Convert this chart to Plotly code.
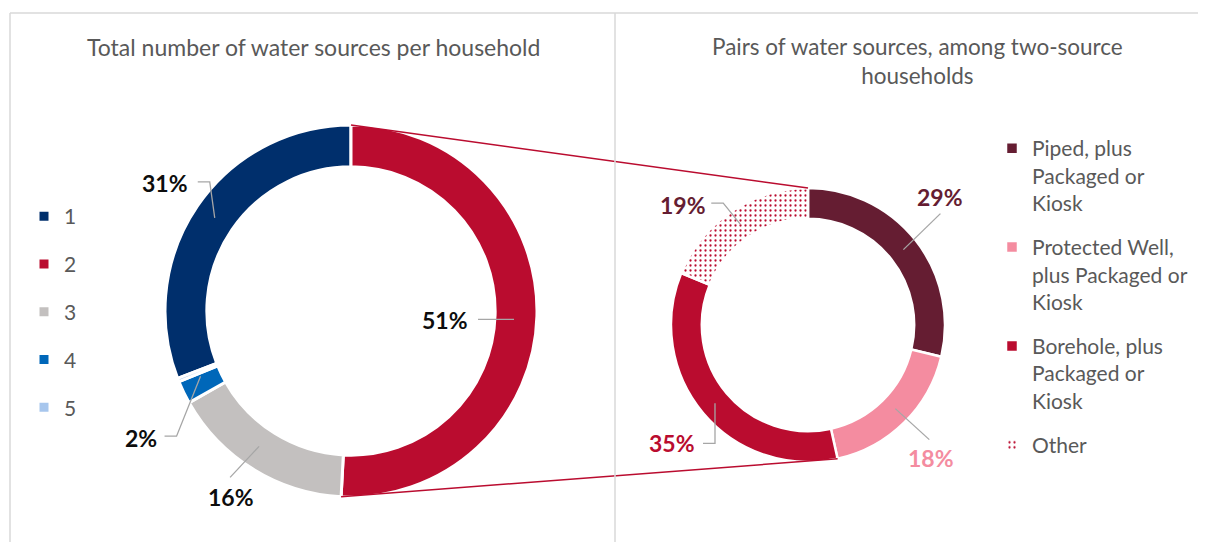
import math
import plotly.graph_objects as go

# page body has an 8px default margin: the figure is drawn inside it
OFF = 8
FW, FH = 1206 - 2 * OFF, 550 - 2 * OFF

# ---------------- data ----------------
left_title = "Total number of water sources per household"
left_labels = ["1", "2", "3", "4", "5"]
left_values = [31, 51, 16, 2, 0.3]

right_title = "Pairs of water sources, among two-source<br>households"
right_labels = [
    "Piped, plus<br>Packaged or<br>Kiosk",
    "Protected Well,<br>plus Packaged or<br>Kiosk",
    "Borehole, plus<br>Packaged or<br>Kiosk",
    "Other",
]
right_values = [29, 18, 35, 19]

# ---------------- style ----------------
FONT = "Lato"
GREY = "#595959"
LEADER = "#A6A6A6"
left_colors = ["#002F6C", "#BA0C2F", "#C3C0BF", "#0067B9", "#A7C6ED"]
left_label_colors = ["#0D0D0D"] * 5
right_colors = ["#651D32", "#F48CA0", "#BA0C2F", "#FFFFFF"]
right_patterns = ["", "", "", "."]
right_label_colors = ["#651D32", "#F48CA0", "#BA0C2F", "#651D32"]

# geometry in window pixels
LC, LR = (351, 311), 186
RC, RR = (808, 325), 137
HOLE = 0.775

# label placement (pixel offsets from the computed slice anchor)
left_text_off = [(-50, -35), (-71, 5), (-33, 46), (-62, 55), None]
left_lines = [[(0, 0), (-5, -36), (-17, -36)], [(-2, 4), (-38, 4)],
              [(-5, -5), (-34, 26)], [(-2, -7), (-26, 53), (-38, 53)], None]
right_text_off = [(37, -53), (38, 46), (-43, 40), (-57, -19)]
right_lines = [[(0, 0), (37, -36)], [(2, -3), (36, 28)],
               [(0, 0), (0, 40), (-12, 40)], [(0, 0), (-17, -21), (-29, -21)]]


def paper(x, y):
    return (x - OFF) / FW, 1 - (y - OFF) / FH


def domain(c, r):
    x0, y1 = paper(c[0] - r, c[1] - r)
    x1, y0 = paper(c[0] + r, c[1] + r)
    return dict(x=[x0, x1], y=[y0, y1])


def slice_angles(values, rotation):
    tot = sum(values)
    out, a = [], rotation
    for v in values:
        span = v / tot * 360
        out.append((a, a + span))
        a += span
    return out


def polar(c, r, deg):
    t = math.radians(deg)
    return c[0] + r * math.sin(t), c[1] - r * math.cos(t)


left_rot = 360 - left_values[0] / sum(left_values) * 360
right_rot = 0
left_ang = slice_angles(left_values, left_rot)
right_ang = slice_angles(right_values, right_rot)

fig = go.Figure()

fig.add_trace(go.Pie(
    labels=left_labels, values=left_values, sort=False, direction="clockwise",
    rotation=left_rot, hole=HOLE, domain=domain(LC, LR), textinfo="none",
    marker=dict(colors=left_colors, line=dict(color="white", width=3)),
    legend="legend", hoverinfo="label+percent",
))
fig.add_trace(go.Scatter(x=[None], y=[None], mode="lines", name=" ",
                         legendgroup="zz", legend="legend",
                         line=dict(color="rgba(0,0,0,0)", width=0),
                         hoverinfo="skip"))

fig.add_trace(go.Pie(
    labels=right_labels, values=right_values, sort=False, direction="clockwise",
    rotation=right_rot, hole=HOLE, domain=domain(RC, RR), textinfo="none",
    marker=dict(colors=right_colors, line=dict(color="white", width=2.5),
                pattern=dict(shape=right_patterns, fgcolor="#BA0C2F",
                             bgcolor="white", size=5, solidity=0.16)),
    legend="legend2", hoverinfo="label+percent",
))
fig.add_trace(go.Scatter(x=[None], y=[None], mode="lines", name=" ",
                         legendgroup="zz", legend="legend2",
                         line=dict(color="rgba(0,0,0,0)", width=0),
                         hoverinfo="skip"))

shapes = []
annotations = []


def add_labels(values, angles, c, r, text_off, lines, colors):
    rmid = r * (1 + HOLE) / 2
    for i, v in enumerate(values):
        if text_off[i] is None:
            continue
        a0, a1 = angles[i]
        ax, ay = polar(c, rmid, (a0 + a1) / 2)
        pts = [paper(ax + dx, ay + dy) for dx, dy in lines[i]]
        path = "M " + " L ".join(f"{x:.5f},{y:.5f}" for x, y in pts)
        shapes.append(dict(type="path", xref="paper", yref="paper", path=path,
                           line=dict(color=LEADER, width=1.3)))
        tx, ty = paper(ax + text_off[i][0], ay + text_off[i][1])
        annotations.append(dict(
            x=tx, y=ty, xref="paper", yref="paper", showarrow=False,
            text=f"<b>{round(v)}%</b>", xanchor="center", yanchor="middle",
            font=dict(family=FONT, size=23, color=colors[i])))


add_labels(left_values, left_ang, LC, LR, left_text_off, left_lines, left_label_colors)
add_labels(right_values, right_ang, RC, RR, right_text_off, right_lines, right_label_colors)

# connector lines between the two donuts (from slice "2" edges)
p_top_l = polar(LC, LR, left_ang[1][0])
p_top_r = polar(RC, RR, right_ang[0][0])
p_bot_l = polar(LC, LR, left_ang[1][1])
p_bot_r = polar(RC, RR, right_ang[1][1])
for a, b in [(p_top_l, p_top_r), (p_bot_l, p_bot_r)]:
    x0, y0 = paper(*a)
    x1, y1 = paper(*b)
    shapes.append(dict(type="line", xref="paper", yref="paper", x0=x0, y0=y0,
                       x1=x1, y1=y1, line=dict(color="#BA0C2F", width=1.5)))

# frame and divider
BORDER = "#D9D9D9"
for (xa, ya, xb, yb) in [(10, 13, 1206, 13), (10, 13, 10, 550), (615, 13, 615, 550)]:
    x0, y0 = paper(xa, ya)
    x1, y1 = paper(xb, yb)
    shapes.append(dict(type="line", xref="paper", yref="paper", x0=x0, y0=y0,
                       x1=x1, y1=y1, line=dict(color=BORDER, width=1.5)))

# titles
tx, ty = paper(314, 47)
annotations.append(dict(x=tx, y=ty, xref="paper", yref="paper", showarrow=False,
                        text=left_title, xanchor="center", yanchor="middle",
                        font=dict(family=FONT, size=23, color=GREY)))
tx, ty = paper(918, 61)
annotations.append(dict(x=tx, y=ty, xref="paper", yref="paper", showarrow=False,
                        text=right_title, xanchor="center", yanchor="middle",
                        font=dict(family=FONT, size=22.5, color=GREY)))

lx, ly = paper(24, 196)
rx, ry = paper(992, 128)
fig.update_layout(
    width=FW, height=FH,
    margin=dict(l=0, r=0, t=0, b=0),
    paper_bgcolor="white", plot_bgcolor="white",
    font=dict(family=FONT, color=GREY),
    xaxis=dict(visible=False), yaxis=dict(visible=False),
    shapes=shapes, annotations=annotations,
    legend=dict(x=lx, y=ly, xanchor="left", yanchor="top",
                traceorder="grouped", tracegroupgap=17.5, valign="top",
                font=dict(family=FONT, size=21, color=GREY),
                bgcolor="rgba(0,0,0,0)"),
    legend2=dict(x=rx, y=ry, xanchor="left", yanchor="top",
                 traceorder="grouped", tracegroupgap=14, valign="top",
                 font=dict(family=FONT, size=21, color=GREY),
                 bgcolor="rgba(0,0,0,0)"),
    showlegend=True,
)

fig.write_html("out.html")
